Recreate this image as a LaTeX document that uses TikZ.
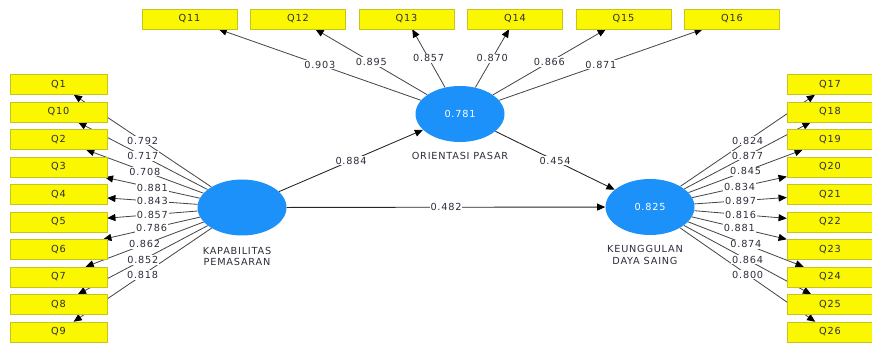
\documentclass[tikz,border=0pt]{standalone}
\usepackage{fontspec}
\setmainfont{DejaVu Sans}[LetterSpace=8]
\usepackage{tikz}
\usetikzlibrary{arrows.meta,positioning,shapes.geometric,backgrounds}
\definecolor{lemon}{RGB}{250,247,0}
\definecolor{mustard}{RGB}{200,196,30}
\definecolor{azure}{RGB}{28,145,250}
\definecolor{ink}{RGB}{45,45,60}
\definecolor{wire}{RGB}{70,70,70}
\tikzset{
  >={Triangle[length=7pt,width=6pt,color=black]},
  item/.style={draw=mustard,fill=lemon,minimum width=#1,minimum height=6mm,
    inner sep=0pt,font=\fontsize{8.3}{9}\selectfont,text=ink},
  item/.default=28.5mm,
  construct/.style={ellipse,fill=azure,minimum width=26.7mm,minimum height=16.8mm,
    inner sep=0pt,text=white,font=\fontsize{8.3}{9}\selectfont},
  load/.style={->,draw=wire,line width=0.7pt},
  link/.style={->,draw=black!85,line width=0.75pt},
  coef/.style={fill=white,inner sep=0.8pt,font=\fontsize{8.3}{9}\selectfont,text=ink},
  tag/.style={font=\fontsize{8.3}{9.6}\selectfont,text=ink,align=center},
}
\begin{document}
\begin{tikzpicture}[x=0.3mm,y=-0.3mm]
  \useasboundingbox (0,0) rectangle (872,343);
  % latent variables
  \node[construct] (kp) at (242,207.5) {};
  \node[construct] (op) at (460,114) {0.781};
  \node[construct] (kds) at (650,207) {0.825};
  \node[tag] (kpt) at (237,256.5) {KAPABILITAS\\PEMASARAN};
  \node[tag] (opt) at (460,156) {ORIENTASI PASAR};
  \node[tag] (kdst) at (645,255) {KEUNGGULAN\\DAYA SAING};
  % indicators with their loadings
  \foreach \n/\l [count=\i from 0] in {1/0.792,10/0.717,2/0.708,3/0.881,4/0.843,
      5/0.857,6/0.786,7/0.862,8/0.852,9/0.818} {
    \node[item=29.1mm] (q\n) at (58.5,84.5+27.5*\i) {Q\n};
    \scoped[on background layer] \draw[load] (kp) -- (q\n);
    \path (kp) -- node[coef] (w\n) {\l} (q\n);
  }
  \foreach \n/\l [count=\i from 0] in {11/0.903,12/0.895,13/0.857,14/0.870,
      15/0.866,16/0.871} {
    \node[item] (q\n) at (189.5+108.5*\i,19) {Q\n};
    \scoped[on background layer] \draw[load] (op) -- (q\n);
    \path (op) -- node[coef] (w\n) {\l} (q\n);
  }
  \foreach \n/\l [count=\i from 0] in {17/0.824,18/0.877,19/0.845,20/0.834,21/0.897,
      22/0.816,23/0.881,24/0.874,25/0.864,26/0.800} {
    \node[item=25.8mm] (q\n) at (830,84.5+27.5*\i) {Q\n};
    \scoped[on background layer] \draw[load] (kds) -- (q\n);
    \path (kds) -- node[coef] (w\n) {\l} (q\n);
  }
  % inner model
  \draw[link] (kp) -- node[coef] (b1) {0.884} (op);
  \draw[link] (op) -- node[coef] (b2) {0.454} (kds);
  \draw[link] (kp) -- node[coef] (b3) {0.482} (kds);
\end{tikzpicture}
\end{document}
